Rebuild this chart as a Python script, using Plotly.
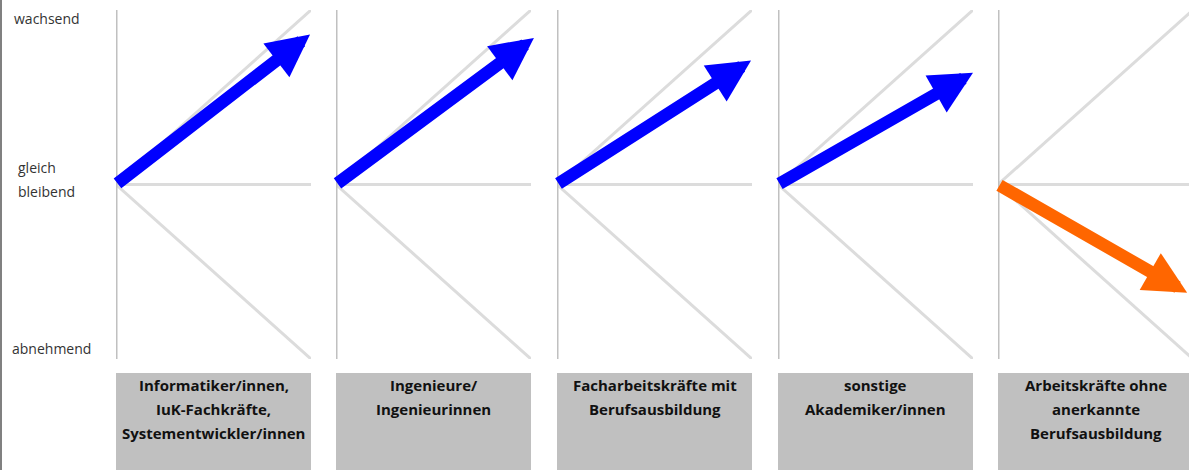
import plotly.graph_objects as go

# ---------------- data ----------------
categories = [
    ["Informatiker/innen,", "IuK-Fachkräfte,", "Systementwickler/innen"],
    ["Ingenieure/", "Ingenieurinnen"],
    ["Facharbeitskräfte mit", "Berufsausbildung"],
    ["sonstige", "Akademiker/innen"],
    ["Arbeitskräfte ohne", "anerkannte", "Berufsausbildung"],
]
trend_end_x = [0.995, 1.015, 0.995, 1.0, 0.97]
trend_end_y = [0.86, 0.84, 0.71, 0.64, -0.62]
level_labels = ["wachsend", "gleich", "bleibend", "abnehmend"]
level_values = [0.95, 0.10, -0.04, -0.94]

# ---------------- layout constants ----------------
W, H = 1189, 470
panel_left = [116, 336, 557, 778, 998]
panel_w = 195
y_top, y_bot = 10, 359
box_top = 373
blue, orange = "#0000ff", "#ff6600"
axis_grey, guide_grey = "#c0c0c0", "#dcdcdc"

fig = go.Figure()
shapes = []
annotations = []

for i, x0 in enumerate(panel_left):
    n = "" if i == 0 else str(i + 1)
    xa, ya = "x" + n, "y" + n
    x1 = min(x0 + panel_w, W)
    xmax = (x1 - x0) / panel_w
    fig.update_layout(**{
        "xaxis" + n: dict(domain=[x0 / W, x1 / W], range=[0, xmax], visible=False,
                          fixedrange=True, anchor=ya),
        "yaxis" + n: dict(domain=[(H - y_bot) / H, (H - y_top) / H], range=[-1, 1],
                          visible=False, fixedrange=True, anchor=xa),
    })
    # guide lines
    for (gx, gy) in [(1, 1), (1, 0), (1, -1)]:
        shapes.append(dict(type="line", xref=xa, yref=ya, x0=0, y0=0, x1=gx, y1=gy,
                           line=dict(color=guide_grey, width=3), layer="below"))
    shapes.append(dict(type="line", xref=xa, yref=ya, x0=0, y0=-1, x1=0, y1=1,
                       line=dict(color=axis_grey, width=3), layer="below"))
    # grey label box
    shapes.append(dict(type="rect", xref="paper", yref="paper",
                       x0=x0 / W, x1=(x0 + panel_w) / W, y0=0, y1=(H - box_top) / H,
                       fillcolor="#c0c0c0", line=dict(width=0)))
    # box text lines
    for j, line in enumerate(categories[i]):
        annotations.append(dict(xref="paper", yref="paper",
                                x=(x0 + panel_w / 2) / W, y=(H - (385 + 24 * j)) / H,
                                text=line, showarrow=False, xanchor="center", yanchor="middle",
                                font=dict(family="Open Sans", size=15, color="#111111",
                                          weight="bold")))
    # trend arrow
    col = blue if trend_end_y[i] >= 0 else orange
    annotations.append(dict(xref=xa, yref=ya, axref=xa, ayref=ya,
                            x=trend_end_x[i], y=trend_end_y[i], ax=0, ay=0,
                            text="", showarrow=True, arrowhead=2, arrowsize=0.68,
                            arrowwidth=12.5, arrowcolor=col, standoff=0, startstandoff=0))
    fig.add_trace(go.Scatter(x=[0], y=[0], xaxis=xa, yaxis=ya, mode="markers",
                             marker=dict(opacity=0), hoverinfo="skip", showlegend=False))

# level labels
for lab, yv, xp in zip(level_labels, level_values, [12, 16, 16, 10]):
    annotations.append(dict(xref="paper", yref="y", x=xp / W, y=yv, text=lab,
                            showarrow=False, xanchor="left", yanchor="middle", align="left",
                            font=dict(family="Open Sans", size=14, color="#333333")))

# left edge rule
shapes.append(dict(type="line", xref="paper", yref="paper", x0=1 / W, x1=1 / W, y0=0, y1=1,
                   line=dict(color="#808080", width=2)))

fig.update_layout(width=W, height=H, margin=dict(l=0, r=0, t=0, b=0),
                  paper_bgcolor="white", plot_bgcolor="white",
                  shapes=shapes, annotations=annotations, showlegend=False)

fig.write_html("out.html", config={"displayModeBar": False},
               post_script="document.body.style.margin='0';document.body.style.overflow='hidden';")
